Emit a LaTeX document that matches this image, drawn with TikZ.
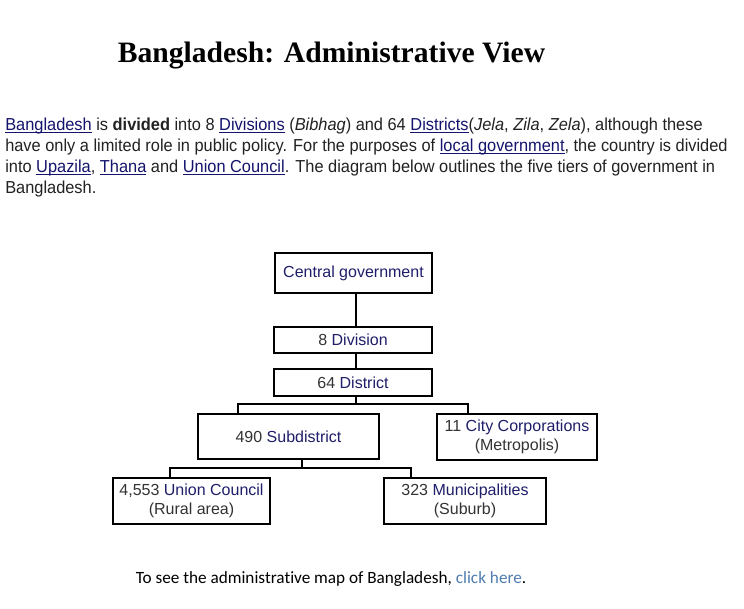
\documentclass[tikz,border=0pt]{standalone}
\usepackage{fontspec}
\setmainfont{Liberation Sans}
\newfontfamily\titlefont{Liberation Serif}
\newfontfamily\footfont[Ligatures=NoCommon]{Carlito}
\newfontfamily\parafont[FakeStretch=0.945]{Liberation Sans}
\definecolor{nav}{HTML}{1E1E6A}
\definecolor{numc}{HTML}{333333}
\definecolor{txt}{HTML}{222222}
\definecolor{lnk}{HTML}{14146E}
\definecolor{clk}{HTML}{4F7DAF}
\newcommand{\lk}[1]{\textcolor{lnk}{\setbox0\hbox{#1}\rlap{\rule[-1.6pt]{\wd0}{0.7pt}}\box0}}
\newcommand{\nm}[1]{\textcolor{numc}{#1}}
\newcommand{\nw}[1]{\textcolor{nav}{#1}}
\begin{document}
\begin{tikzpicture}[x=0.75pt,y=-0.75pt,
  box/.style={draw=black, line width=1.6pt, inner sep=0pt, align=center, font=\fontsize{12}{14.5}\selectfont},
  conn/.style={draw=black, line width=0.8pt},
  paraline/.style={anchor=base west, inner sep=0pt, text=txt, font=\parafont\fontsize{13}{15}\selectfont}]
\fill[white] (0,0) rectangle (744,609);
\useasboundingbox (0,0) rectangle (744,609);
% title
\node[anchor=base, inner sep=0pt, font=\titlefont\bfseries\fontsize{22.2}{26}\selectfont] (title) at (331.5,63) {Bangladesh: Administrative View};
% paragraph
\node[paraline] (p1) at (5,131) {\lk{Bangladesh} is \textbf{divided} into 8 \lk{Divisions} (\textit{Bibhag}) and 64 \lk{Districts}(\textit{Jela}, \textit{Zila}, \textit{Zela}), although these};
\node[paraline] (p2) at (5,152) {have only a limited role in public policy. For the purposes of \lk{local government}, the country is divided};
\node[paraline] (p3) at (5,173) {into \lk{Upazila}, \lk{Thana} and \lk{Union Council}. The diagram below outlines the five tiers of government in};
\node[paraline] (p4) at (5,194) {Bangladesh.};
% boxes
\node[box, minimum width=157*0.75pt, minimum height=40*0.75pt] (central) at (353.5,273) {\nw{Central government}};
\node[box, minimum width=158*0.75pt, minimum height=26*0.75pt] (div) at (353,340) {\nm{8} \nw{Division}};
\node[box, minimum width=158*0.75pt, minimum height=27*0.75pt] (dist) at (353,382.5) {\nm{64} \nw{District}};
\node[box, minimum width=181*0.75pt, minimum height=45*0.75pt] (sub) at (288.5,436.5) {\nm{490} \nw{Subdistrict}};
\node[box, minimum width=160*0.75pt, minimum height=46*0.75pt] (city) at (517,437) {\nm{11} \nw{City Corporations}\\\nm{(Metropolis)}};
\node[box, minimum width=157*0.75pt, minimum height=46*0.75pt] (union) at (191.5,501) {\nm{4,553} \nw{Union Council}\\\nm{(Rural area)}};
\node[box, minimum width=162*0.75pt, minimum height=46*0.75pt] (muni) at (465,501) {\nm{323} \nw{Municipalities}\\\nm{(Suburb)}};
% connector points
\coordinate (j1) at (356,404);
\coordinate (j1l) at (238,404);
\coordinate (j1r) at (468,404);
\coordinate (j2) at (302,468);
\coordinate (j2l) at (170,468);
\coordinate (j2r) at (411,468);
% connectors
\draw[conn] (central.south -| j1) -- (div.north -| j1);
\draw[conn] (div.south -| j1) -- (dist.north -| j1);
\draw[conn] (dist.south -| j1) -- (j1);
\draw[conn] (sub.north -| j1l) |- (j1) -| (city.north -| j1r);
\draw[conn] (sub.south -| j2) -- (j2);
\draw[conn] (union.north -| j2l) |- (j2) -| (muni.north -| j2r);
% footer
\node[anchor=base, inner sep=0pt, text=black, font=\footfont\fontsize{12.9}{15}\selectfont] (foot) at (331,584) {To see the administrative map of Bangladesh, \textcolor{clk}{click here}.};
\end{tikzpicture}
\end{document}
